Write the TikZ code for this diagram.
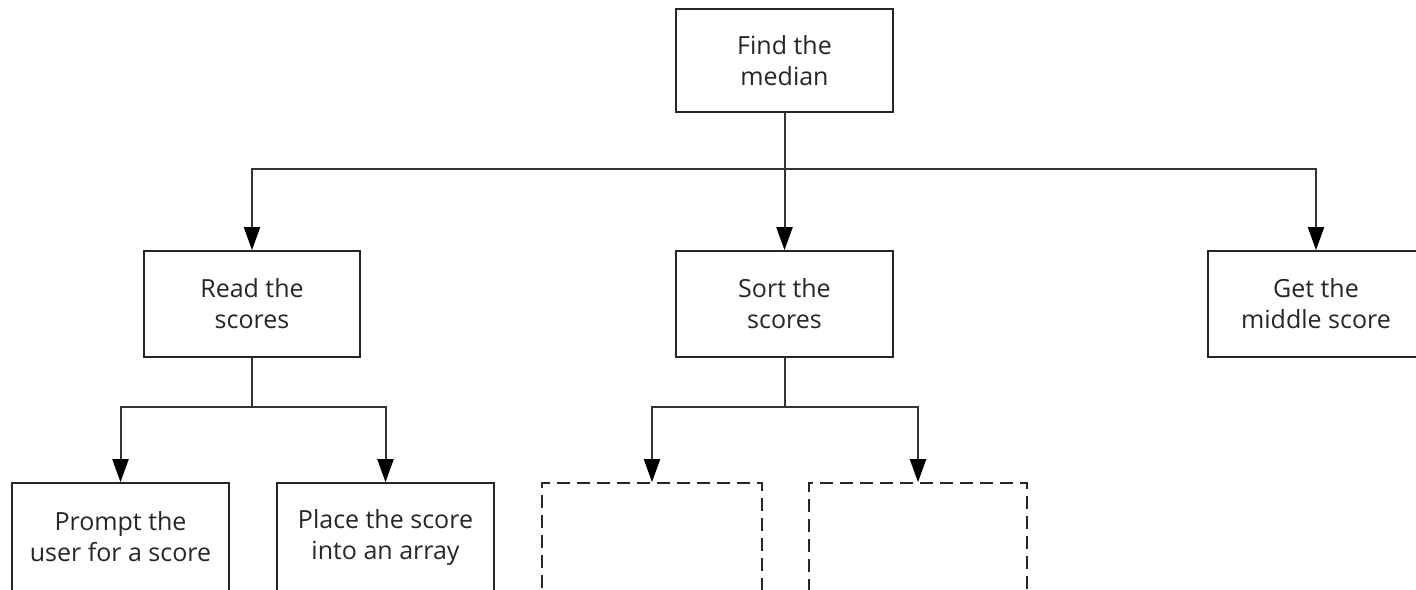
\documentclass[tikz,border=0pt]{standalone}
\usepackage{fontspec}
\setmainfont{Open Sans}
\usetikzlibrary{arrows.meta}
\begin{document}
\begin{tikzpicture}[x=1pt,y=-1pt,
  box/.style={draw=black!85, line width=1.6pt, fill=white, align=center, inner sep=0pt,
    text=black!85, font=\fontsize{25}{31}\selectfont},
  dbox/.style={box, dash pattern=on 13pt off 7pt},
  conn/.style={draw=black!80, line width=2pt},
  arr/.style={conn, -{Triangle[width=16pt,length=23pt,color=black]}}]
\useasboundingbox (0,0) rectangle (1416,589);
\clip (0,0) rectangle (1416,589);
\node[box, minimum width=217pt, minimum height=103pt] (find) at (784.5,60.5) {Find the\\median};
\node[box, minimum width=216pt, minimum height=106pt] (read) at (252,304) {Read the\\scores};
\node[box, minimum width=217pt, minimum height=106pt] (sort) at (784.5,304) {Sort the\\scores};
\node[box, minimum width=216pt, minimum height=106pt] (get) at (1316,304) {Get the\\middle score};
\node[box, minimum width=217pt, minimum height=108pt] (prompt) at (120.5,537) {Prompt the\\user for a score};
\node[box, minimum width=217pt, minimum height=108pt] (place) at (385.5,537) {Place the score\\into an array};
\node[dbox, minimum width=220pt, minimum height=108pt] (d1) at (652,537) {};
\node[dbox, minimum width=218pt, minimum height=108pt] (d2) at (918,537) {};
\coordinate (j1) at (784.5,169);
\coordinate (j2) at (252,407);
\coordinate (j3) at (784.5,407);
\draw[conn] (find.south) -- (j1);
\draw[arr] (j1) -| (read.north);
\draw[arr] (j1) -- (sort.north);
\draw[arr] (j1) -| (get.north);
\draw[conn] (read.south) -- (j2);
\draw[arr] (j2) -| (prompt.north);
\draw[arr] (j2) -| (place.north);
\draw[conn] (sort.south) -- (j3);
\draw[arr] (j3) -| (d1.north);
\draw[arr] (j3) -| (d2.north);
\end{tikzpicture}
\end{document}
